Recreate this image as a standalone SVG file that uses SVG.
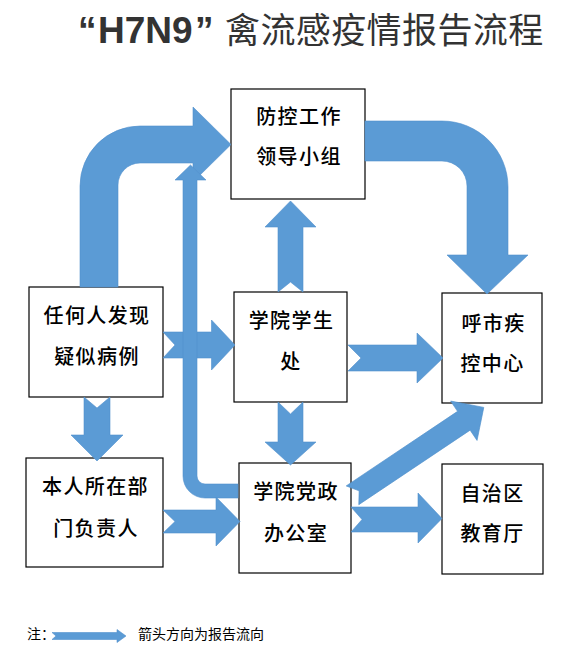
<svg xmlns="http://www.w3.org/2000/svg" width="579" height="659" viewBox="0 0 579 659">
<style>
.box{fill:#fff;stroke:#000;stroke-width:1.2}
.nt{font-family:"Noto Sans CJK SC","Noto Sans CJK TC",sans-serif;font-size:20px;fill:#000;text-anchor:middle;letter-spacing:1.4px;font-weight:500}
.arr{fill:#5B9BD5;stroke:#5291CC;stroke-width:0.6}
.title{fill:#333}
</style>
<rect width="579" height="659" fill="#fff"/>
<g id="title">
<text x="78" y="43" class="title" font-family="Liberation Sans, Arial, sans-serif" font-weight="bold" font-size="37">“</text>
<text x="98" y="43" class="title" font-family="Liberation Sans, Arial, sans-serif" font-weight="bold" font-size="37">H7N9</text>
<text x="195" y="43" class="title" font-family="Liberation Sans, Arial, sans-serif" font-weight="bold" font-size="37">”</text>
<text x="225" y="43" class="title" font-family="Noto Sans CJK SC, sans-serif" font-size="35" letter-spacing="0.4">禽流感疫情报告流程</text>
</g>
<g id="n_lead">
<rect class="box" x="231" y="89" width="134" height="110"/>
<text class="nt" x="299" y="124">防控工作</text>
<text class="nt" x="299" y="164">领导小组</text>
</g>
<g id="n_anyone">
<rect class="box" x="29" y="287" width="134" height="110"/>
<text class="nt" x="97" y="322.5">任何人发现</text>
<text class="nt" x="97" y="364">疑似病例</text>
</g>
<g id="n_dept">
<rect class="box" x="26" y="458" width="137" height="109"/>
<text class="nt" x="95.5" y="494">本人所在部</text>
<text class="nt" x="96" y="535.5">门负责人</text>
</g>
<g id="n_student">
<rect class="box" x="234" y="292" width="113" height="110"/>
<text class="nt" x="291.5" y="327.5">学院学生</text>
<text class="nt" x="291" y="369">处</text>
</g>
<g id="n_office">
<rect class="box" x="239" y="463" width="112" height="110"/>
<text class="nt" x="296" y="499">学院党政</text>
<text class="nt" x="296" y="540.5">办公室</text>
</g>
<g id="n_cdc">
<rect class="box" x="442" y="293" width="100" height="110"/>
<text class="nt" x="493.5" y="330.5">呼市疾</text>
<text class="nt" x="492.5" y="370.5">控中心</text>
</g>
<g id="n_edu">
<rect class="box" x="442" y="464" width="101" height="110"/>
<text class="nt" x="492.5" y="500.5">自治区</text>
<text class="nt" x="492.5" y="540.5">教育厅</text>
</g>
<g id="connectors">
<path class="arr" d="M80,287 L80,186 A60,60 0 0 1 140,126 L193,126 L193,107 L231,144.5 L193,182 L193,163 L140,163 A22,22 0 0 0 118,185 L118,287 Z"/>
<path class="arr" d="M365,121 L442,121 A66,66 0 0 1 508,187 L508,255 L528,255 L487,294 L447,255 L467,255 L467,186 A25,25 0 0 0 442,161 L365,161 Z"/>
<path class="arr" d="M163,332 L211.5,332 L211.5,320 L235,345 L211.5,370 L211.5,358 L163,358 L175,345 Z"/>
<path class="arr" d="M238,484 L205,484 A8,8 0 0 1 197,476 L197,180 L206,180 L190.5,165 L175,180 L183,180 L183,476 A22,22 0 0 0 205,498 L238,498 Z"/>
<path class="arr" d="M278,292 L278,227 L265,227 L290.5,201 L316,227 L303,227 L303,292 L290.5,282 Z"/>
<path class="arr" d="M84,397 L97,408 L110,397 L110,435 L123,435 L97,461 L71,435 L84,435 Z"/>
<path class="arr" d="M163,510 L216,510 L216,497 L240,521.5 L216,546 L216,533 L163,533 L175,521.5 Z"/>
<path class="arr" d="M348,345 L417,345 L417,333 L443,358 L417,383 L417,371 L348,371 L361,358 Z"/>
<path class="arr" d="M278,402 L290.5,414 L303,402 L303,442 L316,442 L290.5,465 L265,442 L278,442 Z"/>
<path class="arr" d="M351,507 L418,507 L418,493 L442,518.5 L418,543 L418,532 L351,532 L362,519.5 Z"/>
<path class="arr" transform="translate(352.5,495.3) rotate(-33.8)" d="M0,-11.3 L134,-11.3 L134,-23.7 L158,0 L134,23.7 L134,11.3 L0,11.3 L8,0 Z"/>
</g>
<g id="legend">
<text x="27" y="638.5" font-family="Noto Sans CJK SC, sans-serif" font-size="14" fill="#000">注：</text>
<path class="arr" d="M52,632.5 L117,632.5 L117,629.5 L126,636 L117,642.5 L117,639.5 L52,639.5 L56,636 Z"/>
<text x="138" y="638.5" font-family="Noto Sans CJK SC, sans-serif" font-size="14" fill="#000">箭头方向为报告流向</text>
</g>
</svg>
